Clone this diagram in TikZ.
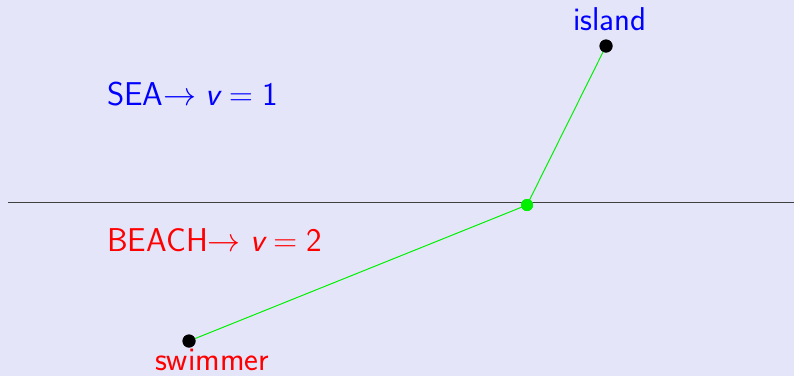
\RequirePackage{fix-cm}
\documentclass[tikz,border=0pt]{standalone}
\usepackage{fontspec}
\definecolor{bgc}{RGB}{229,229,250}
\definecolor{grn}{RGB}{0,240,0}
\begin{document}
\begin{tikzpicture}[x=1pt,y=-1pt,
  lbl/.style={font=\sffamily\fontsize{33}{38}\selectfont, inner sep=0pt},
  dot/.style={circle, fill=black, inner sep=0pt, minimum size=13pt},
  gdot/.style={circle, fill=grn, inner sep=0pt, minimum size=12pt},
  path/.style={draw=grn, line width=1pt}]
\fill[bgc] (0,0) rectangle (794,376);
\useasboundingbox (0,0) rectangle (794,376);
\coordinate (L) at (8,202);
\coordinate (R) at (794,202);
\draw[black!75, line width=1pt] (L) -- (R);
\node[dot] (island) at (606,46) {};
\node[dot] (swimmer) at (189,341) {};
\node[gdot] (cross) at (527,205) {};
\draw[path] (swimmer.center) -- (cross.center) -- (island.center);
\node[gdot] at (cross) {};
\node[dot] at (island) {};
\node[dot] at (swimmer) {};
\node[lbl, text=blue, anchor=base] (il) at (610,30) {island};
\node[lbl, text=red, anchor=base] (sl) at (212,370) {swimmer};
\node[lbl, text=blue, anchor=base west] (sea) at (107,105) {SEA$\rightarrow\textsf{\itshape v}=\textsf{1}$};
\node[lbl, text=red, anchor=base west] (beach) at (107,251) {BEACH$\rightarrow\textsf{\itshape v}=\textsf{2}$};
\end{tikzpicture}
\end{document}
